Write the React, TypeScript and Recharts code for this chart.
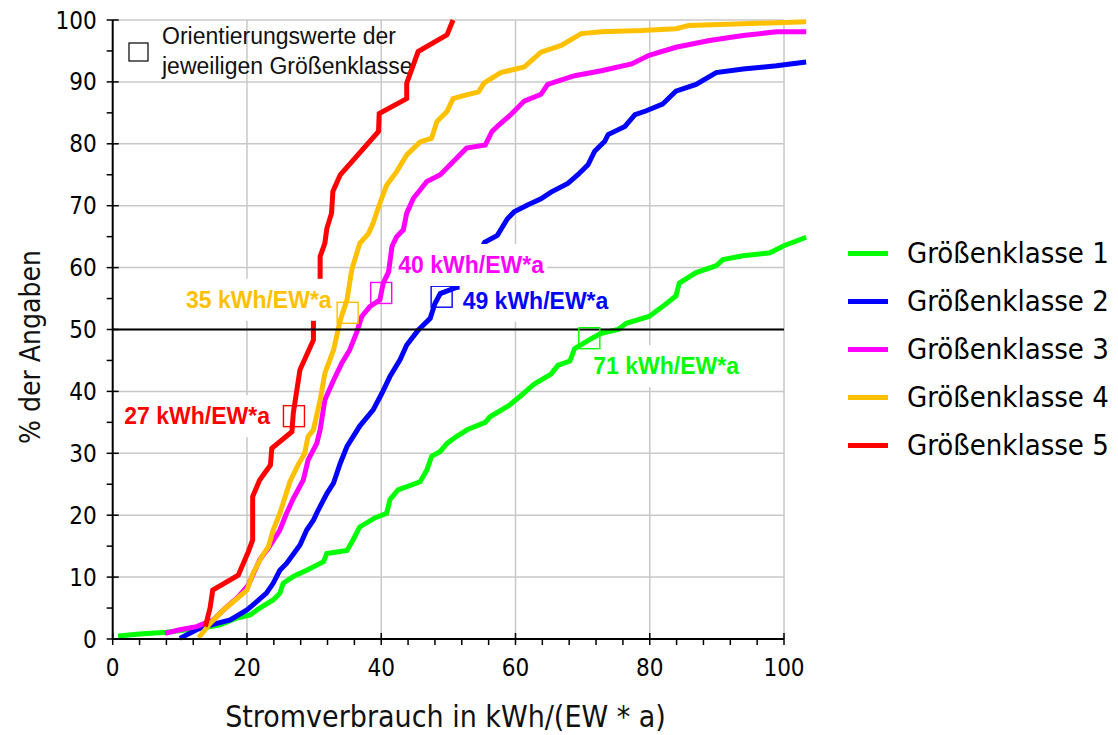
import React from "react";
import {
  LineChart,
  Line,
  XAxis,
  YAxis,
  ReferenceLine,
  ReferenceDot,
  Legend,
  Customized,
} from "recharts";

type Pt = [number, number];

// Summenkurven: [kWh/(EW*a), % der Angaben]
const klasse1: Pt[] = [
  [0.8, 0.5], [4, 0.8], [8, 1.1], [12, 1.6], [14, 1.9], [16, 2.3], [18.5, 3.4], [20.5, 3.9],
  [21.9, 5], [23.9, 6.3], [24.9, 7.4], [25.4, 9], [26.9, 10.1], [28.9, 11.1], [31.4, 12.5],
  [31.9, 13.8], [34.9, 14.3], [35.8, 16], [36.8, 18.1], [39.1, 19.6], [40.8, 20.3], [41.3, 22.5],
  [42.5, 24.1], [45.8, 25.4], [46.8, 27.3], [47.5, 29.5], [48.8, 30.3], [49.8, 31.6], [51.2, 32.7],
  [52.8, 33.8], [55.5, 35], [56.2, 35.9], [59, 37.7], [60.8, 39.3], [62.8, 41.2], [65.3, 42.8],
  [66.3, 44.2], [68.1, 44.9], [68.8, 46.9], [71.1, 48.4], [72.8, 49.4], [75.3, 50], [76.5, 51],
  [79.9, 52.1], [81.9, 53.7], [83.9, 55.4], [84.4, 57.5], [86.9, 59.2], [89.9, 60.3], [90.9, 61.3],
  [93.9, 61.9], [97.9, 62.4], [99.9, 63.5], [103.3, 64.9],
];

const klasse2: Pt[] = [
  [10, 0.1], [12.5, 1.5], [13.7, 2], [17.5, 3.1], [20, 4.7], [21.2, 5.8], [22.9, 7.4], [23.9, 9],
  [24.9, 11.1], [25.9, 12.2], [27.9, 15.2], [28.9, 17.6], [29.9, 19.2], [30.6, 20.8], [31.9, 23.5],
  [32.9, 25.2], [33.9, 28.4], [34.9, 31.1], [36.8, 34.4], [38.8, 37], [40.1, 39.7], [41.3, 42.4],
  [42.8, 45.1], [43.8, 47.5], [45.5, 49.9], [47.3, 51.8], [48, 54.2], [48.8, 55.8], [51.2, 56.8],
  [52, 56.9], [55.4, 64.1], [57.3, 65.2], [58.8, 67.9], [59.8, 69], [61.8, 70.1], [63.8, 71.1],
  [65.3, 72.2], [67.8, 73.6], [69.3, 75], [70.8, 76.6], [71.8, 78.8], [73.3, 80.4], [73.8, 81.5],
  [76.3, 82.8], [77.8, 84.7], [79.4, 85.3], [81.9, 86.4], [83.9, 88.5], [86.9, 89.6], [89.9, 91.5],
  [93.9, 92.1], [98.9, 92.6], [103.3, 93.2],
];

const klasse3: Pt[] = [
  [7.8, 0.9], [10, 1.5], [12.5, 2], [15, 3.1], [16.5, 4.7], [18.7, 6.8], [20.2, 8.7], [21.9, 12.8],
  [23.2, 14.7], [24.9, 17.6], [25.9, 20.3], [26.9, 22.7], [28.4, 25.7], [29.1, 28.9], [30.4, 31.6],
  [30.9, 33.8], [31.6, 38.6], [32.9, 41.8], [34.1, 44.5], [35.3, 46.7], [36.3, 49.4], [37.1, 52.1],
  [38.3, 53.7], [39.8, 54.8], [40.3, 57.5], [41.1, 59.3], [41.6, 63.4], [42.3, 65], [43.3, 66.1],
  [43.8, 68.8], [44.8, 71.2], [46.8, 73.9], [48.8, 75], [50.7, 77.1], [52.7, 79.3], [55.5, 79.8],
  [56.5, 82], [57.5, 83], [59.3, 84.7], [61.3, 86.9], [63.8, 88], [64.8, 89.6], [68.8, 91],
  [72.8, 91.8], [77.3, 92.9], [79.9, 94.3], [83.9, 95.6], [88.9, 96.7], [93.9, 97.5], [98.9, 98.1],
  [103.3, 98.1],
];

const klasse4: Pt[] = [
  [12.8, 0.2], [14.5, 2.5], [16.5, 4.7], [18.5, 6.5], [20, 7.9], [20.9, 10.6], [22.2, 13.3],
  [23.2, 14.9], [23.9, 17.6], [24.9, 20.3], [25.7, 23], [26.4, 25.4], [27.6, 28.1], [28.6, 30],
  [29.1, 32.7], [29.9, 33.8], [30.9, 38.6], [31.6, 42.9], [32.9, 46.7], [33.9, 51.5], [34.9, 54.8],
  [35.6, 59.6], [36.8, 63.9], [38.1, 65.5], [38.8, 67.2], [39.8, 70.4], [40.8, 73.3], [42.3, 75.5],
  [43.8, 78.2], [45.8, 80.3], [47.5, 80.9], [48.3, 83.6], [49.8, 85.2], [50.7, 87.3], [52.7, 87.9],
  [54.5, 88.4], [55.3, 89.8], [57.8, 91.5], [61.3, 92.4], [63.8, 94.8], [66.8, 95.9], [69.8, 97.8],
  [72.8, 98.1], [78.8, 98.3], [83.9, 98.6], [85.8, 99.1], [93.9, 99.4], [103.3, 99.7],
];

const klasse5: Pt[] = [
  [13.8, 2], [14.5, 5], [14.9, 7.9], [18.7, 10.3], [20.2, 14.1], [20.85, 16], [20.85, 23],
  [21.9, 25.7], [23.5, 28.1], [23.7, 30.8], [26.7, 33.5], [26.9, 36.5], [27.9, 43.5], [29.9, 48.3],
  [29.9, 51.3], [30.9, 58.3], [30.9, 61.8], [31.6, 63.9], [31.9, 66.3], [32.6, 68.8], [32.8, 72.3],
  [33.9, 75], [39.6, 82], [39.7, 84.9], [43.8, 87.3], [43.8, 89.8], [45.5, 94.9], [49.8, 97.6],
  [50.7, 100],
];

const klassenNamen = ["Größenklasse 1", "Größenklasse 2", "Größenklasse 3", "Größenklasse 4", "Größenklasse 5"];

// Orientierungswerte (Quadrate)
const orientWert = [71, 49, 40, 35, 27];
const orientAnteil = [48.6, 55.3, 55.9, 52.7, 36.0];

const xTicks = [0, 4, 8, 12, 16, 20, 24, 28, 32, 36, 40, 44, 48, 52, 56, 60, 64, 68, 72, 76, 80, 84, 88, 92, 96, 100];
const yTicks = [0, 5, 10, 15, 20, 25, 30, 35, 40, 45, 50, 55, 60, 65, 70, 75, 80, 85, 90, 95, 100];
const xGitter = [20, 40, 60, 80, 100];
const yGitter = [10, 20, 30, 40, 50, 60, 70, 80, 90, 100];
const mittelLinie = 50;

const serien = [klasse1, klasse2, klasse3, klasse4, klasse5];
const farben = ["#00ff00", "#0000ff", "#ff00ff", "#ffc000", "#ff0000"];

// label placement relative to the square, in px
const labelLage = [
  { dx: 4, dy: 28, anchor: "start" },
  { dx: 21, dy: 4, anchor: "start" },
  { dx: 17, dy: -28, anchor: "start" },
  { dx: -16, dy: -13, anchor: "end" },
  { dx: -24, dy: 0, anchor: "end" },
];

const condensed = "'DejaVu Sans Condensed', 'DejaVu Sans', sans-serif";
const arial = "'Liberation Sans', Arial, sans-serif";

const toRows = (pts: Pt[]) => pts.map(([x, y]) => ({ x, y }));

const XTick = (props: any) => {
  const { x, y, payload } = props;
  const v = payload.value;
  const major = v % 20 === 0;
  const axisY = y - 18;
  return (
    <g>
      <line x1={x} x2={x} y1={major ? axisY - 6 : axisY} y2={axisY + 6} stroke="#000" strokeWidth={1.5} />
      {major && (
        <text x={x} y={axisY + 37} textAnchor="middle" fontFamily={condensed} fontSize={24} fill="#000">
          {v}
        </text>
      )}
    </g>
  );
};

const YTick = (props: any) => {
  const { x, y, payload } = props;
  const v = payload.value;
  const major = v % 10 === 0;
  const axisX = x + 16;
  return (
    <g>
      <line x1={axisX - 6} x2={major ? axisX + 6 : axisX} y1={y} y2={y} stroke="#000" strokeWidth={1.5} />
      {major && (
        <text x={axisX - 16} y={y + 8.5} textAnchor="end" fontFamily={condensed} fontSize={24} fill="#000">
          {v}
        </text>
      )}
    </g>
  );
};

const XTitle = () => (
  <text x={437.5} y={719} textAnchor="middle" fontFamily={condensed} fontSize={30} fill="#111">
    Stromverbrauch in kWh/(EW * a)
  </text>
);

const YTitle = () => (
  <text x={32} y={339} textAnchor="middle" transform="rotate(-90, 32, 339)" fontFamily={condensed} fontSize={28} fill="#111">
    % der Angaben
  </text>
);

const Hinweis = () => (
  <g>
    <rect x={121} y={35} width={19} height={18} fill="none" stroke="#000" strokeWidth={1.2} />
    <text x={154} y={35.5} fontFamily={arial} fontSize={23} fill="#111">Orientierungswerte der</text>
    <text x={154} y={66} fontFamily={arial} fontSize={23} fill="#111">jeweiligen Größenklasse</text>
  </g>
);

const orientierung = (i: number) => (props: any) => {
  const { cx, cy } = props;
  const l = labelLage[i];
  const w = 152;
  const tx = cx + l.dx;
  const ty = cy + l.dy;
  const boxX = l.anchor === "start" ? tx - 3 : tx - w + 3;
  return (
    <g>
      <rect x={boxX} y={ty - 21} width={w} height={42} fill="#fff" />
      <text x={tx} y={ty} dy="0.36em" textAnchor={l.anchor as any} fontFamily={arial} fontWeight="bold" fontSize={23} fill={farben[i]}>
        {`${orientWert[i]} kWh/EW*a`}
      </text>
      <rect x={cx - 10.5} y={cy - 10.5} width={21} height={21} fill="none" stroke={farben[i]} strokeWidth={1.4} />
    </g>
  );
};

const LegendBox = ({ payload }: any) => (
  <div>
    {(payload || []).map((p: any) => (
      <div key={p.value} style={{ display: "flex", alignItems: "center", height: 48 }}>
        <span style={{ display: "inline-block", width: 40, height: 5, background: p.color, marginRight: 19 }} />
        <span style={{ fontFamily: condensed, fontSize: 29, color: "#000", whiteSpace: "nowrap" }}>{p.value}</span>
      </div>
    ))}
  </div>
);

export default function App() {
  return (
    <div style={{ width: 1110, height: 727, background: "#fff" }}>
      <LineChart width={1110} height={727} margin={{ top: 12, right: 310.5, bottom: 36, left: 44.7 }}>
        <XAxis
          type="number"
          dataKey="x"
          domain={[0, 103.5]}
          ticks={xTicks}
          interval={0}
          height={60}
          axisLine={false}
          tickLine={false}
          tickSize={6}
          tickMargin={12}
          tick={<XTick />}
          label={<XTitle />}
        />
        <YAxis
          type="number"
          domain={[0, 100]}
          ticks={yTicks}
          interval={0}
          width={60}
          axisLine={false}
          tickLine={false}
          tickSize={6}
          tickMargin={10}
          tick={<YTick />}
          label={<YTitle />}
        />
        {xGitter.map((v) => (
          <ReferenceLine key={"gx" + v} segment={[{ x: v, y: 0 }, { x: v, y: 100 }]} stroke="#c8c8c8" strokeWidth={1.5} zIndex={-100} />
        ))}
        {yGitter.map((v) => (
          <ReferenceLine key={"gy" + v} segment={[{ x: 0, y: v }, { x: 100, y: v }]} stroke="#c8c8c8" strokeWidth={1.5} zIndex={-100} />
        ))}
        <Customized component={Hinweis} />
        {serien.map((s, i) => (
          <Line
            key={klassenNamen[i]}
            data={toRows(s)}
            dataKey="y"
            name={klassenNamen[i]}
            type="linear"
            stroke={farben[i]}
            strokeWidth={5}
            dot={false}
            activeDot={false}
            isAnimationActive={false}
          />
        ))}
        <ReferenceLine segment={[{ x: 0, y: mittelLinie }, { x: 100, y: mittelLinie }]} stroke="#000" strokeWidth={2} zIndex={500} />
        <ReferenceLine segment={[{ x: 0, y: 0 }, { x: 100, y: 0 }]} stroke="#000" strokeWidth={2} zIndex={500} />
        <ReferenceLine segment={[{ x: 0, y: 0 }, { x: 0, y: 100 }]} stroke="#000" strokeWidth={2} zIndex={500} />
        {orientWert.map((v, i) => (
          <ReferenceDot key={"o" + i} x={v} y={orientAnteil[i]} r={10} shape={orientierung(i)} zIndex={700 + i} />
        ))}
        <Legend
          layout="vertical"
          align="center"
          verticalAlign="middle"
          wrapperStyle={{ left: 840, top: 221, width: 270 }}
          content={LegendBox}
        />
      </LineChart>
    </div>
  );
}
